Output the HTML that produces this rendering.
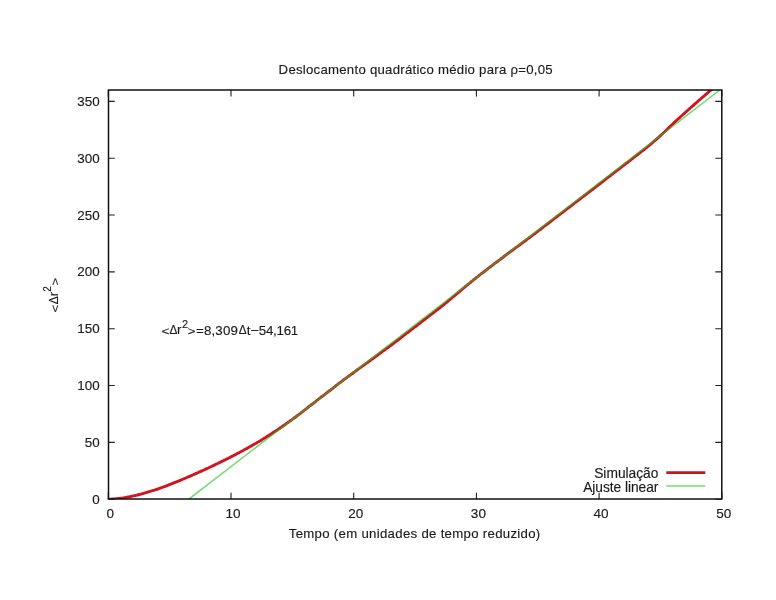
<!DOCTYPE html><html><head><meta charset="utf-8"><style>html,body{margin:0;padding:0;background:#fff;}svg{display:block;will-change:transform}</style></head><body>
<svg width="776" height="600" viewBox="0 0 776 600" font-family="Liberation Sans, sans-serif" font-size="13.75" fill="#1c1c1c" stroke="#1c1c1c" stroke-width="0.15">
<rect width="776" height="600" fill="#fff" stroke="none"/>
<path d="M108.30 499.20V492.70M108.30 90.00V96.50M231.00 499.20V492.70M231.00 90.00V96.50M353.70 499.20V492.70M353.70 90.00V96.50M476.40 499.20V492.70M476.40 90.00V96.50M599.10 499.20V492.70M599.10 90.00V96.50M721.80 499.20V492.70M721.80 90.00V96.50M108.30 499.20H114.80M721.80 499.20H715.30M108.30 442.37H114.80M721.80 442.37H715.30M108.30 385.53H114.80M721.80 385.53H715.30M108.30 328.69H114.80M721.80 328.69H715.30M108.30 271.86H114.80M721.80 271.86H715.30M108.30 215.02H114.80M721.80 215.02H715.30M108.30 158.19H114.80M721.80 158.19H715.30M108.30 101.35H114.80M721.80 101.35H715.30" stroke="#222" stroke-width="1.1" fill="none"/>
<text x="110.30" y="517.7" text-anchor="middle" font-size="13.55">0</text>
<text x="233.00" y="517.7" text-anchor="middle" font-size="13.55">10</text>
<text x="355.70" y="517.7" text-anchor="middle" font-size="13.55">20</text>
<text x="478.40" y="517.7" text-anchor="middle" font-size="13.55">30</text>
<text x="601.10" y="517.7" text-anchor="middle" font-size="13.55">40</text>
<text x="723.80" y="517.7" text-anchor="middle" font-size="13.55">50</text>
<text x="99.7" y="503.80" text-anchor="end" font-size="13.4">0</text>
<text x="99.7" y="446.97" text-anchor="end" font-size="13.4">50</text>
<text x="99.7" y="390.13" text-anchor="end" font-size="13.4">100</text>
<text x="99.7" y="333.30" text-anchor="end" font-size="13.4">150</text>
<text x="99.7" y="276.46" text-anchor="end" font-size="13.4">200</text>
<text x="99.7" y="219.62" text-anchor="end" font-size="13.4">250</text>
<text x="99.7" y="162.79" text-anchor="end" font-size="13.4">300</text>
<text x="99.7" y="105.95" text-anchor="end" font-size="13.4">350</text>
<text x="415.6" y="73.9" text-anchor="middle" font-size="13.2" textLength="274" lengthAdjust="spacing">Deslocamento quadrático médio para ρ=0,05</text>
<text x="414.5" y="538.2" text-anchor="middle" font-size="13.2" textLength="251.5" lengthAdjust="spacing">Tempo (em unidades de tempo reduzido)</text>
<g transform="translate(58.2 294.3) rotate(-90)">
<text transform="translate(-18.3 0.3) scale(1 0.8)" font-size="13.3">&lt;</text>
<text transform="translate(-9.9 -0.6) scale(0.92 0.95)" font-size="13.3">Δ</text>
<text x="-1.9" y="0" font-size="13.3">r</text>
<text x="2.5" y="-7.7" font-size="10">2</text>
<text transform="translate(8.9 0.3) scale(1 0.8)" font-size="13.3">&gt;</text>
</g>
<text transform="translate(161.4 334.8) scale(1 0.8)" font-size="13.3">&lt;</text>
<text transform="translate(169.5 333.7) scale(0.88 0.97)" font-size="13.3">Δ</text>
<text x="177.0" y="334.2" font-size="13.3">r</text>
<text x="182.0" y="327.7" font-size="11">2</text>
<text transform="translate(187.8 334.8) scale(1 0.8)" font-size="13.3">&gt;</text>
<text x="196.0" y="334.6" font-size="13.3" textLength="41.85" lengthAdjust="spacing">=8,309</text>
<text transform="translate(238.7 333.7) scale(0.88 0.97)" font-size="13.3">Δ</text>
<text x="246.7" y="334.6" font-size="13.3">t</text>
<text transform="translate(250.5 334.6) scale(1.1 1)" font-size="13.3">−</text>
<text x="258.8" y="334.6" font-size="13.3" textLength="39.4" lengthAdjust="spacing">54,161</text>
<text x="658.4" y="477.8" text-anchor="end" font-size="13.75" textLength="64.2" lengthAdjust="spacing">Simulação</text>
<text x="658.4" y="491.6" text-anchor="end" font-size="13.75" textLength="75.2" lengthAdjust="spacing">Ajuste linear</text>
<path d="M666.3 472.6H705.3" stroke="#c41620" stroke-width="2.6"/>
<path d="M666.3 486.1H705.3" stroke="#22c822" stroke-opacity="0.65" stroke-width="1.5"/>
<defs><clipPath id="cp"><rect x="108.5" y="90" width="613.3" height="409"/></clipPath></defs>
<g clip-path="url(#cp)">
<path d="M108.30 499.19C108.7 499.18 110.0 499.15 110.8 499.12C111.6 499.08 112.5 499.03 113.3 498.98C114.1 498.92 115.0 498.85 115.8 498.78C116.6 498.70 117.5 498.61 118.3 498.52C119.1 498.42 120.0 498.31 120.8 498.20C121.6 498.09 122.5 497.96 123.3 497.83C124.1 497.70 125.0 497.56 125.8 497.42C126.6 497.27 127.5 497.13 128.3 496.97C129.1 496.81 130.0 496.64 130.8 496.47C131.6 496.30 132.5 496.12 133.3 495.94C134.1 495.75 135.0 495.56 135.8 495.36C136.6 495.16 137.5 494.96 138.3 494.75C139.1 494.54 140.0 494.33 140.8 494.11C141.6 493.89 142.5 493.66 143.3 493.43C144.1 493.20 145.0 492.97 145.8 492.73C146.6 492.49 147.5 492.24 148.3 491.99C149.1 491.74 150.0 491.49 150.8 491.23C151.6 490.98 152.5 490.71 153.3 490.45C154.1 490.18 155.0 489.91 155.8 489.64C156.6 489.37 157.5 489.10 158.3 488.81C159.1 488.53 160.0 488.24 160.8 487.95C161.6 487.65 162.5 487.33 163.3 487.02C164.1 486.71 165.0 486.39 165.8 486.07C166.6 485.75 167.5 485.43 168.3 485.11C169.1 484.79 170.0 484.46 170.8 484.13C171.6 483.80 172.5 483.47 173.3 483.14C174.1 482.81 175.0 482.47 175.8 482.13C176.6 481.79 177.5 481.45 178.3 481.11C179.1 480.77 180.0 480.42 180.8 480.08C181.6 479.73 182.5 479.38 183.3 479.03C184.1 478.68 185.0 478.33 185.8 477.97C186.6 477.62 187.5 477.26 188.3 476.90C189.1 476.54 190.0 476.18 190.8 475.82C191.6 475.46 192.5 475.10 193.3 474.73C194.1 474.36 195.0 474.00 195.8 473.63C196.6 473.26 197.5 472.88 198.3 472.51C199.1 472.14 200.0 471.76 200.8 471.39C201.6 471.01 202.5 470.63 203.3 470.25C204.1 469.87 205.0 469.49 205.8 469.10C206.6 468.72 207.5 468.33 208.3 467.94C209.1 467.56 210.0 467.17 210.8 466.77C211.6 466.38 212.5 465.99 213.3 465.59C214.1 465.20 215.0 464.80 215.8 464.40C216.6 464.00 217.5 463.60 218.3 463.20C219.1 462.79 220.0 462.39 220.8 461.98C221.6 461.57 222.5 461.16 223.3 460.75C224.1 460.34 225.0 459.92 225.8 459.51C226.6 459.09 227.5 458.67 228.3 458.25C229.1 457.83 230.0 457.41 230.8 456.98C231.6 456.56 232.5 456.13 233.3 455.70C234.1 455.27 235.0 454.84 235.8 454.40C236.6 453.97 237.5 453.53 238.3 453.09C239.1 452.65 240.0 452.20 240.8 451.76C241.6 451.31 242.5 450.86 243.3 450.41C244.1 449.96 245.0 449.51 245.8 449.05C246.6 448.59 247.5 448.13 248.3 447.67C249.1 447.21 250.0 446.74 250.8 446.26C251.6 445.79 252.5 445.31 253.3 444.83C254.1 444.34 255.0 443.86 255.8 443.37C256.6 442.88 257.5 442.39 258.3 441.89C259.1 441.40 260.0 440.90 260.8 440.40C261.6 439.90 262.5 439.39 263.3 438.88C264.1 438.37 265.0 437.86 265.8 437.35C266.6 436.83 267.5 436.31 268.3 435.79C269.1 435.26 270.0 434.74 270.8 434.20C271.6 433.66 272.5 433.11 273.3 432.56C274.1 432.01 275.0 431.46 275.8 430.90C276.6 430.35 277.5 429.79 278.3 429.22C279.1 428.66 280.0 428.09 280.8 427.52C281.6 426.95 282.5 426.37 283.3 425.79C284.1 425.21 285.0 424.63 285.8 424.04C286.6 423.45 287.5 422.86 288.3 422.27C289.1 421.67 290.0 421.07 290.8 420.47C291.6 419.87 292.5 419.26 293.3 418.65C294.1 418.04 295.0 417.43 295.8 416.81C296.6 416.20 297.5 415.58 298.3 414.95C299.1 414.32 300.0 413.68 300.8 413.03C301.6 412.39 302.5 411.73 303.3 411.07C304.1 410.41 305.0 409.75 305.8 409.09C306.6 408.43 307.5 407.77 308.3 407.12C309.1 406.47 310.0 405.83 310.8 405.18C311.6 404.54 312.5 403.90 313.3 403.26C314.1 402.62 315.0 401.97 315.8 401.33C316.6 400.69 317.5 400.05 318.3 399.40C319.1 398.76 320.0 398.12 320.8 397.48C321.6 396.84 322.5 396.19 323.3 395.55C324.1 394.91 325.0 394.27 325.8 393.62C326.6 392.98 327.5 392.34 328.3 391.70C329.1 391.06 330.0 390.41 330.8 389.77C331.6 389.13 332.5 388.49 333.3 387.85C334.1 387.20 335.0 386.56 335.8 385.92C336.6 385.28 337.5 384.63 338.3 383.99C339.1 383.35 340.0 382.70 340.8 382.07C341.6 381.43 342.5 380.80 343.3 380.17C344.1 379.54 345.0 378.92 345.8 378.30C346.6 377.68 347.5 377.06 348.3 376.45C349.1 375.83 350.0 375.22 350.8 374.61C351.6 374.00 352.5 373.39 353.3 372.77C354.1 372.16 355.0 371.55 355.8 370.93C356.6 370.32 357.5 369.71 358.3 369.11C359.1 368.50 360.0 367.89 360.8 367.29C361.6 366.69 362.5 366.09 363.3 365.49C364.1 364.89 365.0 364.29 365.8 363.69C366.6 363.09 367.5 362.49 368.3 361.88C369.1 361.28 370.0 360.68 370.8 360.08C371.6 359.47 372.5 358.87 373.3 358.26C374.1 357.65 375.0 357.03 375.8 356.42C376.6 355.81 377.5 355.20 378.3 354.59C379.1 353.98 380.0 353.37 380.8 352.76C381.6 352.14 382.5 351.53 383.3 350.92C384.1 350.31 385.0 349.70 385.8 349.09C386.6 348.48 387.5 347.86 388.3 347.25C389.1 346.63 390.0 346.01 390.8 345.39C391.6 344.77 392.5 344.15 393.3 343.53C394.1 342.91 395.0 342.28 395.8 341.65C396.6 341.02 397.5 340.39 398.3 339.75C399.1 339.11 400.0 338.47 400.8 337.83C401.6 337.19 402.5 336.54 403.3 335.90C404.1 335.26 405.0 334.62 405.8 333.98C406.6 333.33 407.5 332.69 408.3 332.05C409.1 331.41 410.0 330.76 410.8 330.12C411.6 329.48 412.5 328.84 413.3 328.20C414.1 327.55 415.0 326.91 415.8 326.27C416.6 325.63 417.5 324.98 418.3 324.34C419.1 323.70 420.0 323.06 420.8 322.42C421.6 321.77 422.5 321.13 423.3 320.49C424.1 319.85 425.0 319.20 425.8 318.56C426.6 317.92 427.5 317.28 428.3 316.64C429.1 315.99 430.0 315.35 430.8 314.71C431.6 314.07 432.5 313.43 433.3 312.78C434.1 312.14 435.0 311.50 435.8 310.86C436.6 310.21 437.5 309.57 438.3 308.93C439.1 308.29 440.0 307.65 440.8 307.00C441.6 306.35 442.5 305.69 443.3 305.02C444.1 304.35 445.0 303.67 445.8 302.99C446.6 302.31 447.5 301.62 448.3 300.93C449.1 300.23 450.0 299.54 450.8 298.84C451.6 298.14 452.5 297.44 453.3 296.74C454.1 296.05 455.0 295.36 455.8 294.66C456.6 293.96 457.5 293.26 458.3 292.55C459.1 291.84 460.0 291.12 460.8 290.40C461.6 289.69 462.5 288.96 463.3 288.25C464.1 287.54 465.0 286.83 465.8 286.14C466.6 285.45 467.5 284.78 468.3 284.10C469.1 283.43 470.0 282.77 470.8 282.11C471.6 281.44 472.5 280.78 473.3 280.11C474.1 279.45 475.0 278.79 475.8 278.13C476.6 277.47 477.5 276.82 478.3 276.16C479.1 275.51 480.0 274.85 480.8 274.20C481.6 273.55 482.5 272.90 483.3 272.26C484.1 271.61 485.0 270.97 485.8 270.33C486.6 269.68 487.5 269.05 488.3 268.41C489.1 267.77 490.0 267.13 490.8 266.50C491.6 265.86 492.5 265.23 493.3 264.59C494.1 263.96 495.0 263.33 495.8 262.69C496.6 262.06 497.5 261.43 498.3 260.80C499.1 260.17 500.0 259.54 500.8 258.91C501.6 258.28 502.5 257.65 503.3 257.02C504.1 256.39 505.0 255.75 505.8 255.13C506.6 254.50 507.5 253.87 508.3 253.25C509.1 252.62 510.0 252.00 510.8 251.38C511.6 250.76 512.5 250.15 513.3 249.53C514.1 248.91 515.0 248.30 515.8 247.68C516.6 247.07 517.5 246.46 518.3 245.84C519.1 245.23 520.0 244.62 520.8 244.00C521.6 243.39 522.5 242.77 523.3 242.16C524.1 241.54 525.0 240.93 525.8 240.31C526.6 239.69 527.5 239.07 528.3 238.45C529.1 237.83 530.0 237.21 530.8 236.59C531.6 235.96 532.5 235.33 533.3 234.70C534.1 234.07 535.0 233.44 535.8 232.80C536.6 232.17 537.5 231.53 538.3 230.90C539.1 230.26 540.0 229.62 540.8 228.99C541.6 228.35 542.5 227.72 543.3 227.08C544.1 226.45 545.0 225.81 545.8 225.17C546.6 224.54 547.5 223.90 548.3 223.27C549.1 222.63 550.0 221.99 550.8 221.36C551.6 220.72 552.5 220.08 553.3 219.45C554.1 218.81 555.0 218.17 555.8 217.54C556.6 216.90 557.5 216.26 558.3 215.63C559.1 214.99 560.0 214.35 560.8 213.71C561.6 213.08 562.5 212.44 563.3 211.80C564.1 211.16 565.0 210.53 565.8 209.89C566.6 209.25 567.5 208.61 568.3 207.97C569.1 207.33 570.0 206.70 570.8 206.06C571.6 205.42 572.5 204.78 573.3 204.14C574.1 203.50 575.0 202.86 575.8 202.22C576.6 201.59 577.5 200.95 578.3 200.31C579.1 199.67 580.0 199.03 580.8 198.39C581.6 197.75 582.5 197.11 583.3 196.47C584.1 195.83 585.0 195.19 585.8 194.55C586.6 193.91 587.5 193.27 588.3 192.63C589.1 191.99 590.0 191.34 590.8 190.70C591.6 190.06 592.5 189.42 593.3 188.78C594.1 188.14 595.0 187.50 595.8 186.86C596.6 186.21 597.5 185.57 598.3 184.93C599.1 184.29 600.0 183.65 600.8 183.00C601.6 182.36 602.5 181.72 603.3 181.08C604.1 180.43 605.0 179.79 605.8 179.15C606.6 178.51 607.5 177.86 608.3 177.22C609.1 176.58 610.0 175.94 610.8 175.29C611.6 174.65 612.5 174.01 613.3 173.36C614.1 172.72 615.0 172.08 615.8 171.44C616.6 170.79 617.5 170.15 618.3 169.51C619.1 168.86 620.0 168.22 620.8 167.57C621.6 166.93 622.5 166.29 623.3 165.64C624.1 165.00 625.0 164.36 625.8 163.71C626.6 163.07 627.5 162.42 628.3 161.78C629.1 161.13 630.0 160.49 630.8 159.84C631.6 159.20 632.5 158.55 633.3 157.91C634.1 157.26 635.0 156.62 635.8 155.97C636.6 155.33 637.5 154.68 638.3 154.04C639.1 153.39 640.0 152.75 640.8 152.10C641.6 151.45 642.5 150.81 643.3 150.16C644.1 149.51 645.0 148.88 645.8 148.22C646.6 147.56 647.5 146.88 648.3 146.20C649.1 145.52 650.0 144.82 650.8 144.11C651.6 143.41 652.5 142.70 653.3 141.99C654.1 141.28 655.0 140.57 655.8 139.85C656.6 139.12 657.5 138.39 658.3 137.64C659.1 136.89 660.0 136.13 660.8 135.37C661.6 134.60 662.5 133.83 663.3 133.05C664.1 132.27 665.0 131.49 665.8 130.69C666.6 129.88 667.5 129.05 668.3 128.23C669.1 127.41 670.0 126.58 670.8 125.78C671.6 124.98 672.5 124.20 673.3 123.42C674.1 122.64 675.0 121.87 675.8 121.10C676.6 120.33 677.5 119.57 678.3 118.81C679.1 118.04 680.0 117.29 680.8 116.53C681.6 115.78 682.5 115.03 683.3 114.27C684.1 113.52 685.0 112.77 685.8 112.03C686.6 111.28 687.5 110.53 688.3 109.79C689.1 109.04 690.0 108.30 690.8 107.56C691.6 106.82 692.5 106.08 693.3 105.34C694.1 104.60 695.0 103.87 695.8 103.14C696.6 102.40 697.5 101.67 698.3 100.94C699.1 100.21 700.0 99.49 700.8 98.76C701.6 98.04 702.5 97.32 703.3 96.60C704.1 95.88 705.0 95.16 705.8 94.44C706.6 93.73 707.5 93.01 708.3 92.30C709.1 91.58 710.0 90.87 710.8 90.15C711.6 89.44 712.5 88.72 713.3 88.01C714.1 87.29 715.0 86.58 715.8 85.86C716.6 85.15 717.5 84.43 718.3 83.72C719.1 83.01 720.0 82.29 720.8 81.58C721.6 80.87 722.5 80.15 723.3 79.44C724.1 78.74 725.4 77.72 725.8 77.38" stroke="#d01420" stroke-width="2.9" fill="none" stroke-linejoin="round"/>
<path d="M188.8 499.2L719.8 90" stroke="#22c822" stroke-opacity="0.65" stroke-width="1.5" fill="none"/>
</g>
<rect x="108.5" y="90" width="613.3" height="409" fill="none" stroke="#111" stroke-width="1.5"/>
</svg></body></html>
